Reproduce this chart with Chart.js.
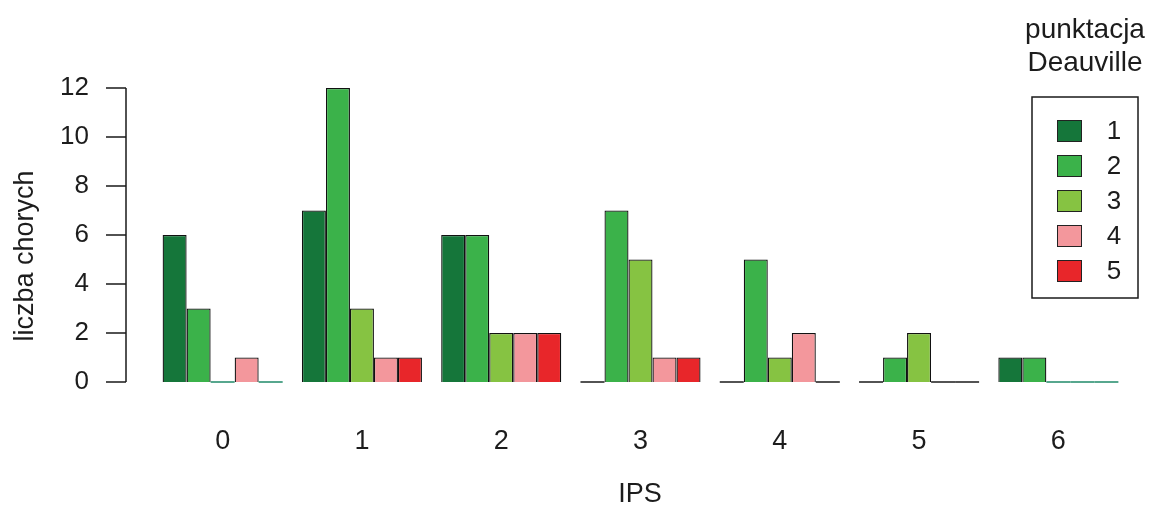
<!DOCTYPE html>
<html>
<head>
<meta charset="utf-8">
<script src="https://cdn.jsdelivr.net/npm/chart.js@4"></script>
<style>
  html, body { margin: 0; padding: 0; background: #fff; }
  #wrap { width: 1149px; height: 511px; }
</style>
</head>
<body>
<div id="wrap"><canvas id="chart" width="1149" height="511"></canvas></div>
<script>
document.addEventListener("DOMContentLoaded", function () {
  // IPS groups on the x axis
  const ipsLabels = ['0', '1', '2', '3', '4', '5', '6'];

  // patient counts per Deauville score
  const deauville1 = [6, 7, 6, 0, 0, 0, 1];
  const deauville2 = [3, 12, 6, 7, 5, 1, 1];
  const deauville3 = [0, 3, 2, 5, 1, 2, 0];
  const deauville4 = [1, 1, 2, 1, 2, 0, 0];
  const deauville5 = [0, 1, 2, 1, 0, 0, 0];

  const seriesNames = ['1', '2', '3', '4', '5'];
  const yTicks = [0, 2, 4, 6, 8, 10, 12];

  const colors = ['#15763a', '#3bb24a', '#86c342', '#f3979c', '#e8262a'];
  const FONT = '"Liberation Sans", Arial, sans-serif';
  const TEXT = '#1c1c1c';

  const seriesData = [deauville1, deauville2, deauville3, deauville4, deauville5];

  // R draws zero-height bars as a flat outline on the baseline
  const zeroBarLines = {
    id: 'zeroBarLines',
    afterDatasetsDraw(chart) {
      const ctx = chart.ctx;
      const y0 = chart.scales.y.getPixelForValue(0);
      ctx.save();
      ctx.lineWidth = 1.5;
      chart.data.datasets.forEach((ds, di) => {
        const meta = chart.getDatasetMeta(di);
        meta.data.forEach((bar, i) => {
          if (ds.data[i] !== 0) return;
          ctx.strokeStyle = (i === 0 || i === 6) ? '#1f8a68' : '#1a1a1a';
          ctx.beginPath();
          ctx.moveTo(bar.x - bar.width / 2, y0);
          ctx.lineTo(bar.x + bar.width / 2, y0);
          ctx.stroke();
        });
      });
      ctx.restore();
    }
  };

  // base-R style axis, titles and legend box
  const rDecor = {
    id: 'rDecor',
    afterDraw(chart) {
      const ctx = chart.ctx;
      const ys = chart.scales.y;
      const axisX = 126;
      ctx.save();
      ctx.strokeStyle = '#1a1a1a';
      ctx.lineWidth = 1.5;
      ctx.beginPath();
      ctx.moveTo(axisX, ys.getPixelForValue(yTicks[0]));
      ctx.lineTo(axisX, ys.getPixelForValue(yTicks[yTicks.length - 1]));
      yTicks.forEach(v => {
        const py = ys.getPixelForValue(v);
        ctx.moveTo(axisX, py);
        ctx.lineTo(axisX - 20, py);
      });
      ctx.stroke();

      ctx.fillStyle = TEXT;
      ctx.font = '27px ' + FONT;
      ctx.textAlign = 'center';
      ctx.textBaseline = 'middle';
      // y title
      ctx.save();
      ctx.translate(26, 256);
      ctx.rotate(-Math.PI / 2);
      ctx.fillText('liczba chorych', 0, 0);
      ctx.restore();
      // x title
      ctx.fillText('IPS', 640, 495);

      // legend title
      ctx.font = '28px ' + FONT;
      ctx.fillText('punktacja', 1085, 30);
      ctx.fillText('Deauville', 1085, 63);

      // legend box
      ctx.lineWidth = 1.5;
      ctx.strokeRect(1032, 97, 106, 201);
      seriesNames.forEach((name, i) => {
        const cy = 131 + i * 35;
        ctx.fillStyle = colors[i];
        ctx.fillRect(1057, cy - 11, 25, 22);
        ctx.lineWidth = 1;
        ctx.strokeStyle = '#222';
        ctx.strokeRect(1057.5, cy - 10.5, 24, 21);
        ctx.fillStyle = TEXT;
        ctx.font = '26px ' + FONT;
        ctx.fillText(name, 1114, cy + 1);
      });
      ctx.restore();
    }
  };

  new Chart(document.getElementById('chart'), {
    type: 'bar',
    data: {
      labels: ipsLabels,
      datasets: seriesData.map((d, i) => ({
        label: seriesNames[i],
        data: d,
        backgroundColor: colors[i],
        borderColor: '#111111',
        borderWidth: 1.3,
        borderSkipped: 'start',
        categoryPercentage: 0.862,
        barPercentage: 1.0
      }))
    },
    options: {
      responsive: false,
      animation: false,
      devicePixelRatio: 1,
      layout: { padding: { left: 62, right: 21, top: 88, bottom: 0 } },
      plugins: {
        legend: { display: false },
        tooltip: { enabled: false }
      },
      scales: {
        x: {
          grid: { display: false, drawTicks: false },
          border: { display: false },
          ticks: {
            color: TEXT,
            padding: 43,
            maxRotation: 0,
            font: { family: FONT, size: 27 }
          },
          afterFit: (scale) => { scale.height = 129; }
        },
        y: {
          min: 0,
          max: 12,
          grid: { display: false, drawTicks: false },
          border: { display: false },
          ticks: {
            stepSize: 2,
            color: TEXT,
            padding: 64,
            font: { family: FONT, size: 26 }
          },
          afterFit: (scale) => { scale.width = 91; }
        }
      }
    },
    plugins: [zeroBarLines, rDecor]
  });
});
</script>
</body>
</html>
